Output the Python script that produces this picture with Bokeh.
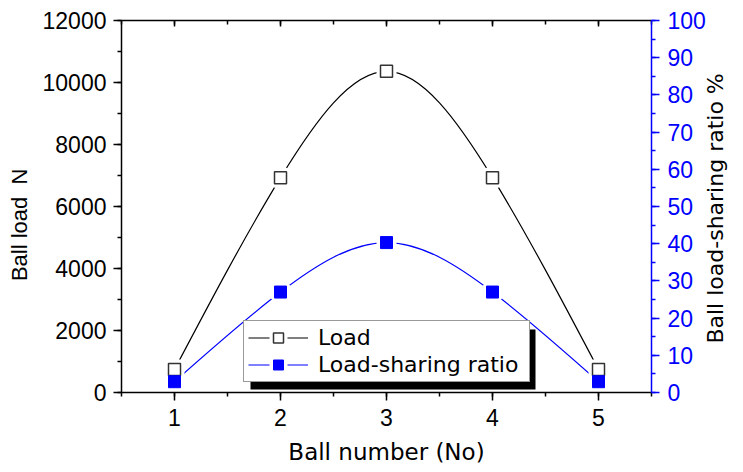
import numpy as np
from bokeh.plotting import figure
from bokeh.models import (Range1d, LinearAxis, SingleIntervalTicker, Legend, LegendItem,
                          BoxAnnotation, ColumnDataSource)
from bokeh.embed import file_html
from bokeh.resources import INLINE

# ---------------- data ----------------
ball = [1, 2, 3, 4, 5]
load = [740, 6930, 10360, 6930, 740]          # N
ratio = [2.9, 27.0, 40.3, 27.0, 2.9]          # %

x_range_lim = (0.5, 5.5)
load_lim = (0, 12000)
ratio_lim = (0, 100)

NBSP = "\u00a0"
x_title = "Ball number (No)"
y_title = "Ball load" + NBSP + " N"
y2_title = "Ball load-sharing ratio  %"
names = ["Load", "Load-sharing ratio"]

BLUE = "#0000ff"


def spline_segments(x, y):
    """Natural cubic spline through the points, as cubic Bezier segments."""
    x = np.asarray(x, float)
    y = np.asarray(y, float)
    n = len(x)
    h = np.diff(x)
    A = np.zeros((n, n))
    b = np.zeros(n)
    A[0, 0] = A[-1, -1] = 1.0
    for i in range(1, n - 1):
        A[i, i - 1] = h[i - 1]
        A[i, i] = 2 * (h[i - 1] + h[i])
        A[i, i + 1] = h[i]
        b[i] = 6 * ((y[i + 1] - y[i]) / h[i] - (y[i] - y[i - 1]) / h[i - 1])
    M = np.linalg.solve(A, b)
    m = np.empty(n)
    m[:-1] = (y[1:] - y[:-1]) / h - h * (2 * M[:-1] + M[1:]) / 6
    m[-1] = (y[-1] - y[-2]) / h[-1] + h[-1] * (M[-2] + 2 * M[-1]) / 6
    return dict(x0=x[:-1], y0=y[:-1], x1=x[1:], y1=y[1:],
                cx0=x[:-1] + h / 3, cy0=y[:-1] + m[:-1] * h / 3,
                cx1=x[1:] - h / 3, cy1=y[1:] - m[1:] * h / 3)


p = figure(width=743, height=472, output_backend="svg", toolbar_location=None,
           x_range=Range1d(*x_range_lim), y_range=Range1d(*load_lim),
           min_border_left=121, min_border_right=88, min_border_top=20, min_border_bottom=80)
p.extra_y_ranges = {"ratio": Range1d(*ratio_lim)}
p.xgrid.visible = False
p.ygrid.visible = False
p.outline_line_color = None
p.background_fill_color = "white"
p.border_fill_color = "white"


def style_axis(ax, color, out_major, out_minor, in_major=0, in_minor=0):
    ax.axis_line_color = color
    ax.axis_line_width = 1.5
    ax.major_tick_line_color = color
    ax.major_tick_line_width = 1.5
    ax.minor_tick_line_color = color
    ax.minor_tick_line_width = 1.5
    ax.major_tick_out = out_major
    ax.major_tick_in = in_major
    ax.minor_tick_out = out_minor
    ax.minor_tick_in = in_minor
    ax.major_label_text_font = "Liberation Sans"
    ax.major_label_text_font_size = "23px"
    ax.major_label_text_color = color
    ax.axis_label_text_font_style = "normal"
    ax.axis_label_text_color = "black"


# bottom axis
xa = p.xaxis[0]
xa.ticker = SingleIntervalTicker(interval=1, num_minor_ticks=2)
style_axis(xa, "black", 8, 4)
xa.major_label_standoff = 8
xa.axis_label = x_title
xa.axis_label_text_font = "DejaVu Sans"
xa.axis_label_text_font_size = "23px"
xa.axis_label_standoff = 10

# left axis
ya = p.yaxis[0]
ya.ticker = SingleIntervalTicker(interval=2000, num_minor_ticks=2)
style_axis(ya, "black", 8, 4)
ya.major_label_standoff = 7
ya.axis_label = y_title + NBSP * 6
ya.axis_label_text_font = "Liberation Sans"
ya.axis_label_text_font_size = "22px"
ya.axis_label_standoff = 8

# right axis
ra = LinearAxis(y_range_name="ratio",
                ticker=SingleIntervalTicker(interval=10, num_minor_ticks=2))
style_axis(ra, BLUE, 8, 4)
ra.major_label_standoff = 8
ra.axis_label_text_font = "DejaVu Sans"
ra.axis_label_text_font_size = "22px"
ra.axis_label_standoff = 7
ra.axis_label_orientation = np.pi / 2
if "axis_label_align" in ra.properties():
    ra.axis_label_align = "start"
    ra.axis_label = NBSP * 7 + y2_title
else:
    ra.axis_label = y2_title
p.add_layout(ra, "right")

# top axis (ticks only, inward)
ta = LinearAxis(ticker=SingleIntervalTicker(interval=1, num_minor_ticks=2))
style_axis(ta, "black", 0, 0, 6, 4)
ta.major_label_text_color = None
ta.major_label_text_font_size = "1px"
ta.major_label_standoff = 0
p.add_layout(ta, "above")

# curves
load_curve = p.bezier(source=ColumnDataSource(spline_segments(ball, load)),
                      x0="x0", y0="y0", x1="x1", y1="y1",
                      cx0="cx0", cy0="cy0", cx1="cx1", cy1="cy1",
                      line_color="black", line_width=1.2)
ratio_curve = p.bezier(source=ColumnDataSource(spline_segments(ball, ratio)),
                       x0="x0", y0="y0", x1="x1", y1="y1",
                       cx0="cx0", cy0="cy0", cx1="cx1", cy1="cy1",
                       line_color=BLUE, line_width=1.2, y_range_name="ratio")

# white halos (gap around markers)
load_halo = p.scatter(ball, load, marker="square", size=12, fill_color="white",
                      line_color="white", line_width=8)
ratio_halo = p.scatter(ball, ratio, marker="square", size=12, fill_color="white",
                       line_color="white", line_width=8, y_range_name="ratio")

# markers
load_pts = p.scatter(ball, load, marker="square", size=12, fill_color="white",
                     line_color="#333333", line_width=1.5)
ratio_pts = p.scatter(ball, ratio, marker="square", size=12, fill_color=BLUE,
                      line_color=BLUE, line_width=1, y_range_name="ratio")

# legend shadow + legend
shadow = BoxAnnotation(left=129, right=414, bottom=3, top=63,
                       left_units="screen", right_units="screen",
                       top_units="screen", bottom_units="screen",
                       fill_color="black", fill_alpha=1.0, line_alpha=0.0)
p.add_layout(shadow)

legend = Legend(items=[LegendItem(label=names[0], renderers=[load_curve, load_halo, load_pts]),
                       LegendItem(label=names[1], renderers=[ratio_curve, ratio_halo, ratio_pts])],
                location=(122, 10), orientation="vertical", padding=4, spacing=2,
                glyph_height=25, glyph_width=60, label_standoff=10, label_width=207,
                label_height=20, margin=0, border_line_color="#333333", border_line_width=1,
                background_fill_color="white", background_fill_alpha=1.0,
                label_text_font="DejaVu Sans", label_text_font_size="22px",
                label_text_color="black")
p.add_layout(legend)

open("out.html", "w").write(file_html(p, INLINE))
